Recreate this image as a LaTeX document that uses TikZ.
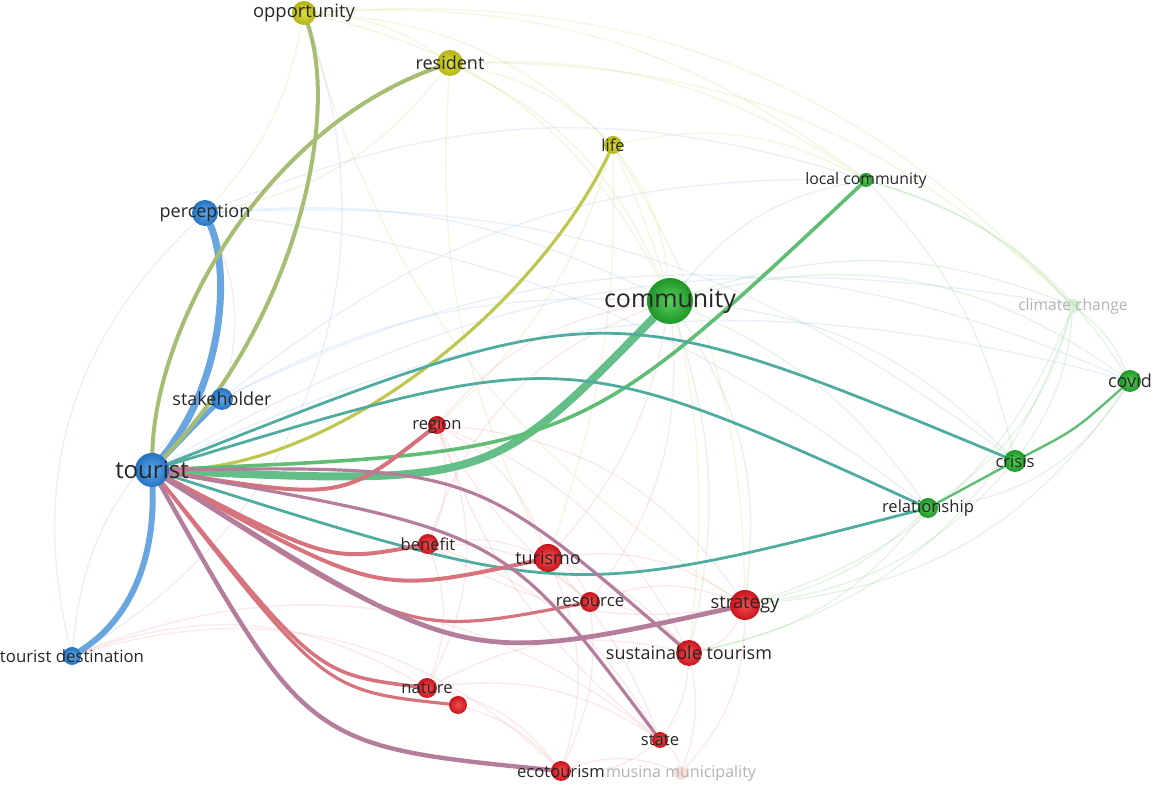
\documentclass[tikz,border=0pt]{standalone}
\usepackage{fontspec}
\setmainfont{Open Sans}
\usetikzlibrary{positioning}
\pgfdeclarelayer{edges}
\pgfsetlayers{edges,main}

\definecolor{vosblue}{RGB}{35,115,195}
\definecolor{vosblueL}{RGB}{95,170,235}
\definecolor{vosgreen}{RGB}{30,150,40}
\definecolor{vosgreenL}{RGB}{90,205,90}
\definecolor{vosyellow}{RGB}{180,180,20}
\definecolor{vosyellowL}{RGB}{220,220,70}
\definecolor{vosred}{RGB}{200,20,30}
\definecolor{vosredL}{RGB}{245,80,80}
\definecolor{eblue}{RGB}{105,165,225}
\definecolor{eolive}{RGB}{165,190,115}
\definecolor{eyellow}{RGB}{190,200,80}
\definecolor{eteal}{RGB}{80,172,160}
\definecolor{esea}{RGB}{100,190,135}
\definecolor{egreen}{RGB}{95,190,115}
\definecolor{ered}{RGB}{215,115,125}
\definecolor{epurple}{RGB}{180,125,155}
\definecolor{fy}{RGB}{200,215,120}
\definecolor{fg}{RGB}{140,205,140}
\definecolor{fr}{RGB}{235,160,160}
\definecolor{fb}{RGB}{150,190,230}

\begin{document}
\begin{tikzpicture}[x=0.5pt, y=-0.5pt]
\tikzset{
  kwB/.style={circle, inner sep=0pt, minimum size=#1, inner color=vosblueL, outer color=vosblue},
  kwG/.style={circle, inner sep=0pt, minimum size=#1, inner color=vosgreenL, outer color=vosgreen},
  kwY/.style={circle, inner sep=0pt, minimum size=#1, inner color=vosyellowL, outer color=vosyellow},
  kwR/.style={circle, inner sep=0pt, minimum size=#1, inner color=vosredL, outer color=vosred},
  lbl/.style={inner sep=0pt, text=black!85, font=\fontsize{#1}{#1}\selectfont},
  strong/.style={line width=#1, line cap=round},
  faint/.style={line width=0.7pt, opacity=0.22}
}
\useasboundingbox (0,0) rectangle (1153,785);

% keywords
\node[kwB=17pt] (tourist) at (152,470) {};
\node[kwB=9pt] (tourist destination) at (72,656) {};
\node[kwB=11pt] (stakeholder) at (222,399) {};
\node[kwB=13pt] (perception) at (205,213) {};
\node[kwY=12pt] (opportunity) at (304,13) {};
\node[kwY=13pt] (resident) at (450,63) {};
\node[kwY=9pt] (life) at (613,145) {};
\node[kwG=7pt] (local community) at (866,180) {};
\node[kwG=23pt] (community) at (670,301) {};
\node[circle, inner sep=0pt, minimum size=7pt, fill=vosgreenL, opacity=0.25] (climate change) at (1073,306) {};
\node[kwG=11pt] (covid) at (1130,381) {};
\node[kwG=11pt] (crisis) at (1015,461) {};
\node[kwG=10pt] (relationship) at (928,508) {};
\node[kwR=9pt] (region) at (437,425) {};
\node[kwR=10pt] (benefit) at (428,544) {};
\node[kwR=14pt] (turismo) at (548,558) {};
\node[kwR=10pt] (resource) at (590,602) {};
\node[kwR=15pt] (strategy) at (745,605) {};
\node[kwR=13pt] (sustainable tourism) at (689,653) {};
\node[kwR=10pt] (nature) at (427,688) {};
\node[kwR=9pt] (nature2) at (458,705) {};
\node[kwR=8pt] (state) at (660,740) {};
\node[kwR=10pt] (ecotourism) at (561,771) {};
\node[circle, inner sep=0pt, minimum size=7pt, fill=vosredL, opacity=0.2] (musina municipality) at (681,773) {};

\begin{pgfonlayer}{edges}
% weak links
\foreach \a/\b/\bd/\c in {
  opportunity/resident/15/fy, opportunity/life/20/fy, opportunity/community/25/fy,
  opportunity/local community/20/fy, opportunity/climate change/25/fy,
  resident/life/15/fy, resident/community/20/fy, resident/local community/18/fy,
  resident/climate change/22/fy, life/community/15/fy, life/local community/20/fy,
  life/sustainable tourism/15/fy, life/strategy/15/fy, opportunity/perception/15/fy,
  resident/perception/20/fy, life/region/15/fy, opportunity/tourist destination/40/fb,
  life/turismo/10/fy, resident/turismo/-15/fy, opportunity/strategy/-20/fy,
  community/local community/20/fg, community/climate change/20/fg, community/covid/25/fg,
  community/crisis/20/fg, community/relationship/15/fg, local community/climate change/15/fg,
  local community/covid/20/fg, local community/crisis/15/fg, climate change/covid/15/fg,
  climate change/crisis/15/fg, climate change/relationship/20/fg, covid/relationship/25/fg,
  perception/community/15/fb, perception/local community/20/fb, community/strategy/20/fg,
  community/sustainable tourism/15/fg, climate change/strategy/25/fg,
  climate change/sustainable tourism/30/fg, covid/strategy/25/fg, crisis/strategy/20/fg,
  relationship/strategy/15/fg, relationship/sustainable tourism/20/fg, community/turismo/15/fr,
  community/resource/20/fr, region/benefit/20/fr, region/turismo/20/fr, region/strategy/25/fr,
  region/sustainable tourism/20/fr, benefit/turismo/15/fr, benefit/resource/20/fr,
  benefit/nature/20/fr, turismo/resource/20/fr, turismo/strategy/20/fr,
  turismo/sustainable tourism/15/fr, resource/strategy/20/fr, resource/sustainable tourism/20/fr,
  strategy/sustainable tourism/25/fr, nature/ecotourism/20/fr, nature/state/20/fr,
  nature2/ecotourism/15/fr, state/ecotourism/20/fr, state/musina municipality/20/fr,
  ecotourism/musina municipality/20/fr, sustainable tourism/musina municipality/15/fr,
  strategy/musina municipality/20/fr, sustainable tourism/state/15/fr, turismo/ecotourism/20/fr,
  region/nature/25/fr, benefit/state/20/fr, tourist destination/ecotourism/30/fr,
  tourist destination/nature/25/fr, tourist destination/state/30/fr, region/community/20/fr,
  benefit/community/25/fr, region/state/-15/fr, resource/ecotourism/15/fr, benefit/strategy/-20/fr,
  nature/sustainable tourism/20/fr, region/resource/-10/fr, turismo/state/10/fr,
  perception/stakeholder/20/fb, tourist destination/perception/30/fb,
  tourist destination/stakeholder/25/fb, perception/relationship/15/fb, tourist/climate change/20/fb,
  tourist/covid/20/fb, stakeholder/community/15/fb, stakeholder/local community/20/fb,
  perception/crisis/20/fb, stakeholder/covid/25/fb}
  \draw[faint, \c] (\a) to[bend left=\bd] (\b);

% strong links
\draw[strong=3pt, eblue] (tourist) .. controls (155,560) and (130,620) .. (tourist destination);
\draw[strong=2.5pt, eblue] (tourist) .. controls (200,420) .. (stakeholder);
\draw[strong=3.5pt, eblue] (tourist) .. controls (225,380) and (230,270) .. (perception);
\draw[strong=2pt, eolive] (tourist) .. controls (295,320) and (340,120) .. (opportunity);
\draw[strong=2pt, eolive] (tourist) .. controls (155,330) and (260,130) .. (resident);
\draw[strong=1.6pt, eyellow] (tourist) .. controls (340,470) and (540,300) .. (life);
\draw[strong=4pt, esea] (tourist) .. controls (490,485) .. (community);
\draw[strong=1.8pt, egreen] (tourist) .. controls (577,452) .. (local community);
\draw[strong=1.4pt, eteal] (tourist) .. controls (605,291) .. (crisis);
\draw[strong=1.4pt, eteal] (tourist) .. controls (567,344) .. (relationship);
\draw[strong=1.4pt, eteal] (tourist) .. controls (567,601) .. (relationship);
\draw[strong=1.2pt, egreen] (crisis) .. controls (1075,430) .. (covid);
\draw[strong=1.2pt, egreen] (relationship) -- (crisis);
\draw[strong=2pt, ered] (tourist) .. controls (342,500) .. (region);
\draw[strong=2pt, ered] (tourist) .. controls (330,562) .. (benefit);
\draw[strong=2pt, ered] (tourist) .. controls (377,595) .. (turismo);
\draw[strong=1.6pt, ered] (tourist) .. controls (410,637) .. (resource);
\draw[strong=2.4pt, epurple] (tourist) .. controls (464,667) .. (strategy);
\draw[strong=1.6pt, epurple] (tourist) .. controls (473,466) .. (sustainable tourism);
\draw[strong=1.6pt, epurple] (tourist) .. controls (505,532) .. (state);
\draw[strong=1.8pt, ered] (tourist) .. controls (317,674) .. (nature);
\draw[strong=1.6pt, ered] (tourist) .. controls (325,691) .. (nature2);
\draw[strong=2.2pt, epurple] (tourist) .. controls (308,746) .. (ecotourism);
\end{pgfonlayer}

% labels
\node[lbl=12] (l-tourist) at (tourist) {tourist};
\node[lbl=8.4] (l-tourist destination) at (tourist destination) {tourist destination};
\node[lbl=9] (l-stakeholder) at (stakeholder) {stakeholder};
\node[lbl=9] (l-perception) at (perception) {perception};
\node[lbl=9.2] (l-opportunity) at (opportunity) {opportunity};
\node[lbl=9] (l-resident) at (resident) {resident};
\node[lbl=8.2] (l-life) at (life) {life};
\node[lbl=7.9] (l-local community) at (local community) {local community};
\node[lbl=12.5] (l-community) at (community) {community};
\node[lbl=7.8, text=black!30] (l-climate change) at (climate change) {climate change};
\node[lbl=9] (l-covid) at (covid) {covid};
\node[lbl=8.3] (l-crisis) at (crisis) {crisis};
\node[lbl=8.3] (l-relationship) at (relationship) {relationship};
\node[lbl=8.3] (l-region) at (region) {region};
\node[lbl=8.3] (l-benefit) at (benefit) {benefit};
\node[lbl=9] (l-turismo) at (turismo) {turismo};
\node[lbl=8.4] (l-resource) at (resource) {resource};
\node[lbl=9.2] (l-strategy) at (strategy) {strategy};
\node[lbl=9] (l-sustainable tourism) at (sustainable tourism) {sustainable tourism};
\node[lbl=8.3] (l-nature) at (nature) {nature};
\node[lbl=8.3] (l-state) at (state) {state};
\node[lbl=8.3] (l-ecotourism) at (ecotourism) {ecotourism};
\node[lbl=8, text=black!30] (l-musina municipality) at (musina municipality) {musina municipality};
\end{tikzpicture}
\end{document}
